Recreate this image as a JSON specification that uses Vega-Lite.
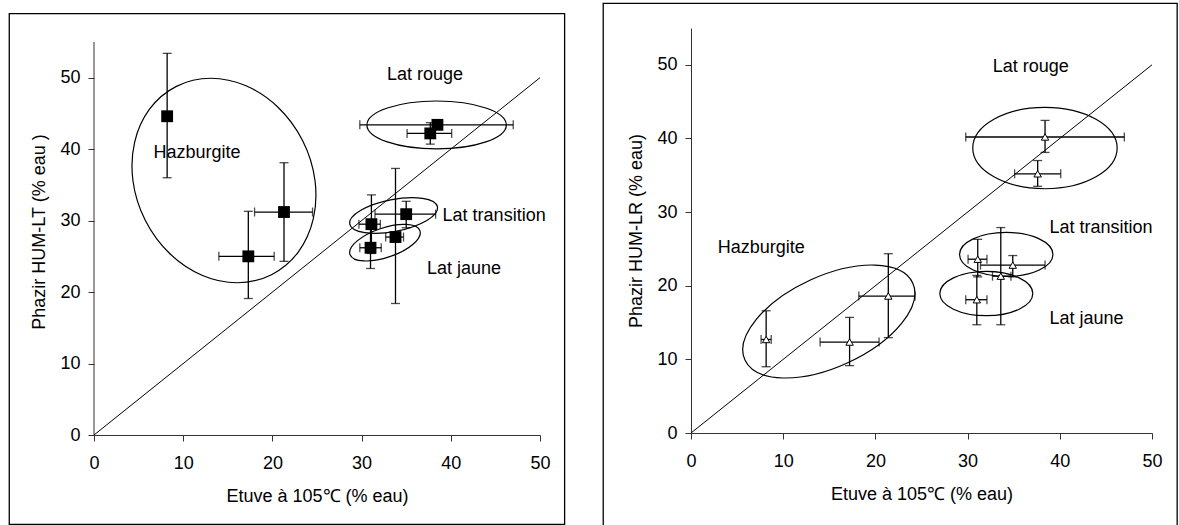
{
  "$schema": "https://vega.github.io/schema/vega-lite/v6.json",
  "padding": {"left": 8, "top": 2, "right": 0, "bottom": 0},
  "background": "white",
  "spacing": 36,
  "config": {
    "view": {"stroke": null},
    "font": "Liberation Sans",
    "scale": {"nice": false},
    "axis": {
      "grid": false,
      "domainColor": "#333333",
      "domainWidth": 1,
      "tickColor": "#333333",
      "tickWidth": 1,
      "tickSize": 6,
      "labelFont": "Liberation Sans",
      "labelFontSize": 18,
      "labelColor": "black",
      "labelFlush": false,
      "labelBound": false,
      "titleFont": "Liberation Sans",
      "titleFontSize": 18,
      "titleFontWeight": "normal",
      "titleColor": "black"
    },
    "axisX": {"labelPadding": 13, "titlePadding": 15},
    "axisY": {"labelPadding": 8, "titlePadding": 11}
  },
  "datasets": {
    "pts": [
      {"panel": "LT", "group": "Hazburgite", "x": 8.2, "y": 44.6, "xlo": null, "xhi": null, "ylo": 36.0, "yhi": 53.4},
      {"panel": "LT", "group": "Hazburgite", "x": 17.3, "y": 25.0, "xlo": 14.0, "xhi": 20.2, "ylo": 19.1, "yhi": 31.3},
      {"panel": "LT", "group": "Hazburgite", "x": 21.3, "y": 31.2, "xlo": 18.0, "xhi": 24.5, "ylo": 24.3, "yhi": 38.1},
      {"panel": "LT", "group": "Lat rouge", "x": 38.5, "y": 43.4, "xlo": 29.8, "xhi": 47.0, "ylo": null, "yhi": null},
      {"panel": "LT", "group": "Lat rouge", "x": 37.7, "y": 42.2, "xlo": 35.1, "xhi": 40.1, "ylo": 40.7, "yhi": 43.7},
      {"panel": "LT", "group": "Lat transition", "x": 35.0, "y": 30.9, "xlo": 31.5, "xhi": 38.3, "ylo": 29.0, "yhi": 32.7},
      {"panel": "LT", "group": "Lat transition", "x": 31.1, "y": 29.5, "xlo": 29.7, "xhi": 32.1, "ylo": 25.4, "yhi": 33.6},
      {"panel": "LT", "group": "Lat jaune", "x": 33.8, "y": 27.7, "xlo": 32.7, "xhi": 34.7, "ylo": 18.4, "yhi": 37.3},
      {"panel": "LT", "group": "Lat jaune", "x": 31.0, "y": 26.2, "xlo": 29.8, "xhi": 32.2, "ylo": 23.3, "yhi": 29.1},
      {"panel": "LR", "group": "Hazburgite", "x": 8.15, "y": 12.7, "xlo": 7.6, "xhi": 8.7, "ylo": 9.0, "yhi": 16.6},
      {"panel": "LR", "group": "Hazburgite", "x": 17.2, "y": 12.35, "xlo": 14.0, "xhi": 20.4, "ylo": 9.15, "yhi": 15.7},
      {"panel": "LR", "group": "Hazburgite", "x": 21.4, "y": 18.6, "xlo": 18.2, "xhi": 24.3, "ylo": 12.95, "yhi": 24.35},
      {"panel": "LR", "group": "Lat rouge", "x": 38.4, "y": 40.2, "xlo": 29.8, "xhi": 47.0, "ylo": 38.1, "yhi": 42.45},
      {"panel": "LR", "group": "Lat rouge", "x": 37.6, "y": 35.2, "xlo": 35.1, "xhi": 40.1, "ylo": 33.5, "yhi": 37.0},
      {"panel": "LR", "group": "Lat transition", "x": 31.1, "y": 23.6, "xlo": 30.05, "xhi": 32.1, "ylo": 21.2, "yhi": 26.3},
      {"panel": "LR", "group": "Lat transition", "x": 34.9, "y": 22.8, "xlo": 31.4, "xhi": 38.4, "ylo": 21.2, "yhi": 24.1},
      {"panel": "LR", "group": "Lat jaune", "x": 33.6, "y": 21.3, "xlo": 32.7, "xhi": 34.7, "ylo": 14.7, "yhi": 27.9},
      {"panel": "LR", "group": "Lat jaune", "x": 31.0, "y": 18.1, "xlo": 29.8, "xhi": 32.1, "ylo": 14.7, "yhi": 21.4}
    ],
    "ell": [
      {"panel": "LT", "group": "Hazburgite", "x": 14.57, "y": 35.61},
      {"panel": "LT", "group": "Lat rouge", "x": 38.41, "y": 43.38},
      {"panel": "LT", "group": "Lat transition", "x": 33.59, "y": 30.71},
      {"panel": "LT", "group": "Lat jaune", "x": 32.62, "y": 26.91},
      {"panel": "LR", "group": "Hazburgite", "x": 14.95, "y": 15.14},
      {"panel": "LR", "group": "Lat rouge", "x": 38.39, "y": 38.70},
      {"panel": "LR", "group": "Lat transition", "x": 34.19, "y": 24.25},
      {"panel": "LR", "group": "Lat jaune", "x": 32.03, "y": 18.94}
    ],
    "labels": [
      {"panel": "LT", "label": "Lat rouge", "x": 32.84, "y": 49.67},
      {"panel": "LT", "label": "Hazburgite", "x": 6.68, "y": 38.72},
      {"panel": "LT", "label": "Lat transition", "x": 39.08, "y": 29.94},
      {"panel": "LT", "label": "Lat jaune", "x": 37.33, "y": 22.49},
      {"panel": "LR", "label": "Lat rouge", "x": 32.73, "y": 48.97},
      {"panel": "LR", "label": "Hazburgite", "x": 2.91, "y": 24.39},
      {"panel": "LR", "label": "Lat transition", "x": 38.88, "y": 27.11},
      {"panel": "LR", "label": "Lat jaune", "x": 38.88, "y": 14.8}
    ]
  },
  "hconcat": [
    {
      "width": 446,
      "height": 407,
      "layer": [
        {
          "data": {"values": [{}]},
          "mark": {"type": "rect", "filled": false, "color": "black", "strokeWidth": 1.3},
          "encoding": {
            "x": {"datum": -9.5, "type": "quantitative"},
            "x2": {"datum": 52.76},
            "y": {"datum": 58.95, "type": "quantitative"},
            "y2": {"datum": -12.5}
          }
        },
        {
          "data": {"values": [{}]},
          "mark": {"type": "rule", "color": "#333333", "strokeWidth": 1},
          "encoding": {
            "x": {"datum": 0, "type": "quantitative"},
            "y": {"datum": 0, "type": "quantitative"},
            "y2": {"datum": 55}
          }
        },
        {
          "data": {"values": [{}]},
          "mark": {"type": "rule", "color": "black", "strokeWidth": 1},
          "encoding": {
            "x": {"datum": 0, "type": "quantitative"},
            "y": {"datum": 0, "type": "quantitative"},
            "x2": {"datum": 50},
            "y2": {"datum": 50}
          }
        },
        {
          "data": {"name": "ell"},
          "transform": [{"filter": "datum.panel === 'LT' && datum.group === 'Hazburgite'"}],
          "mark": {"type": "point", "shape": "M-1 0C-1 -0.4617 -0.5523 -0.836 0 -0.836C0.5523 -0.836 1 -0.4617 1 0C1 0.4617 0.5523 0.836 0 0.836C-0.5523 0.836 -1 0.4617 -1 0Z", "size": 44516, "angle": 63.2, "filled": false, "color": "black", "strokeWidth": 1.2, "opacity": 1},
          "encoding": {
            "x": {"field": "x", "type": "quantitative", "title": "Etuve à 105℃ (% eau)", "scale": {"domain": [0, 50], "nice": false}, "axis": {"values": [0, 10, 20, 30, 40, 50]}},
            "y": {"field": "y", "type": "quantitative", "title": "Phazir HUM-LT (% eau )", "scale": {"domain": [0, 56.95], "nice": false}, "axis": {"values": [0, 10, 20, 30, 40, 50], "domain": false}}
          }
        },
        {
          "data": {"name": "ell"},
          "transform": [{"filter": "datum.panel === 'LT' && datum.group === 'Lat rouge'"}],
          "mark": {"type": "point", "shape": "M-1 0C-1 -0.19 -0.5523 -0.344 0 -0.344C0.5523 -0.344 1 -0.19 1 0C1 0.19 0.5523 0.344 0 0.344C-0.5523 0.344 -1 0.19 -1 0Z", "size": 19432, "angle": 0, "filled": false, "color": "black", "strokeWidth": 1.2, "opacity": 1},
          "encoding": {
            "x": {"field": "x", "type": "quantitative", "title": "Etuve à 105℃ (% eau)", "scale": {"domain": [0, 50], "nice": false}, "axis": {"values": [0, 10, 20, 30, 40, 50]}},
            "y": {"field": "y", "type": "quantitative", "title": "Phazir HUM-LT (% eau )", "scale": {"domain": [0, 56.95], "nice": false}, "axis": {"values": [0, 10, 20, 30, 40, 50], "domain": false}}
          }
        },
        {
          "data": {"name": "ell"},
          "transform": [{"filter": "datum.panel === 'LT' && datum.group === 'Lat transition'"}],
          "mark": {"type": "point", "shape": "M-1 0C-1 -0.1966 -0.5523 -0.356 0 -0.356C0.5523 -0.356 1 -0.1966 1 0C1 0.1966 0.5523 0.356 0 0.356C-0.5523 0.356 -1 0.1966 -1 0Z", "size": 8002, "angle": -11.1, "filled": false, "color": "black", "strokeWidth": 1.2, "opacity": 1},
          "encoding": {
            "x": {"field": "x", "type": "quantitative", "title": "Etuve à 105℃ (% eau)", "scale": {"domain": [0, 50], "nice": false}, "axis": {"values": [0, 10, 20, 30, 40, 50]}},
            "y": {"field": "y", "type": "quantitative", "title": "Phazir HUM-LT (% eau )", "scale": {"domain": [0, 56.95], "nice": false}, "axis": {"values": [0, 10, 20, 30, 40, 50], "domain": false}}
          }
        },
        {
          "data": {"name": "ell"},
          "transform": [{"filter": "datum.panel === 'LT' && datum.group === 'Lat jaune'"}],
          "mark": {"type": "point", "shape": "M-1 0C-1 -0.2209 -0.5523 -0.4 0 -0.4C0.5523 -0.4 1 -0.2209 1 0C1 0.2209 0.5523 0.4 0 0.4C-0.5523 0.4 -1 0.2209 -1 0Z", "size": 5454, "angle": -18.7, "filled": false, "color": "black", "strokeWidth": 1.2, "opacity": 1},
          "encoding": {
            "x": {"field": "x", "type": "quantitative", "title": "Etuve à 105℃ (% eau)", "scale": {"domain": [0, 50], "nice": false}, "axis": {"values": [0, 10, 20, 30, 40, 50]}},
            "y": {"field": "y", "type": "quantitative", "title": "Phazir HUM-LT (% eau )", "scale": {"domain": [0, 56.95], "nice": false}, "axis": {"values": [0, 10, 20, 30, 40, 50], "domain": false}}
          }
        },
        {
          "data": {"name": "pts"},
          "transform": [{"filter": "datum.panel === 'LT' && isValid(datum.xlo)"}],
          "mark": {"type": "errorbar", "ticks": true, "size": 9, "thickness": 1.3, "color": "black"},
          "encoding": {
            "x": {"field": "xlo", "type": "quantitative", "title": "Etuve à 105℃ (% eau)", "scale": {"domain": [0, 50], "nice": false}, "axis": {"values": [0, 10, 20, 30, 40, 50]}},
            "x2": {"field": "xhi"},
            "y": {"field": "y", "type": "quantitative", "title": "Phazir HUM-LT (% eau )", "scale": {"domain": [0, 56.95], "nice": false}, "axis": {"values": [0, 10, 20, 30, 40, 50], "domain": false}}
          }
        },
        {
          "data": {"name": "pts"},
          "transform": [{"filter": "datum.panel === 'LT' && isValid(datum.ylo)"}],
          "mark": {"type": "errorbar", "ticks": true, "size": 9, "thickness": 1.3, "color": "black"},
          "encoding": {
            "x": {"field": "x", "type": "quantitative", "title": "Etuve à 105℃ (% eau)", "scale": {"domain": [0, 50], "nice": false}, "axis": {"values": [0, 10, 20, 30, 40, 50]}},
            "y": {"field": "ylo", "type": "quantitative", "title": "Phazir HUM-LT (% eau )", "scale": {"domain": [0, 56.95], "nice": false}, "axis": {"values": [0, 10, 20, 30, 40, 50], "domain": false}},
            "y2": {"field": "yhi"}
          }
        },
        {
          "data": {"name": "pts"},
          "transform": [{"filter": "datum.panel === 'LT'"}],
          "mark": {"type": "point", "shape": "square", "filled": true, "color": "black", "size": 140, "opacity": 1},
          "encoding": {
            "x": {"field": "x", "type": "quantitative", "title": "Etuve à 105℃ (% eau)", "scale": {"domain": [0, 50], "nice": false}, "axis": {"values": [0, 10, 20, 30, 40, 50]}},
            "y": {"field": "y", "type": "quantitative", "title": "Phazir HUM-LT (% eau )", "scale": {"domain": [0, 56.95], "nice": false}, "axis": {"values": [0, 10, 20, 30, 40, 50], "domain": false}}
          }
        },
        {
          "data": {"name": "labels"},
          "transform": [{"filter": "datum.panel === 'LT'"}],
          "mark": {"type": "text", "align": "left", "baseline": "alphabetic", "fontSize": 18, "font": "Liberation Sans", "color": "black"},
          "encoding": {
            "x": {"field": "x", "type": "quantitative", "title": "Etuve à 105℃ (% eau)", "scale": {"domain": [0, 50], "nice": false}, "axis": {"values": [0, 10, 20, 30, 40, 50]}},
            "y": {"field": "y", "type": "quantitative", "title": "Phazir HUM-LT (% eau )", "scale": {"domain": [0, 56.95], "nice": false}, "axis": {"values": [0, 10, 20, 30, 40, 50], "domain": false}},
            "text": {"field": "label"}
          }
        }
      ]
    },
    {
      "width": 461,
      "height": 405,
      "layer": [
        {
          "data": {"values": [{}]},
          "mark": {"type": "rect", "filled": false, "color": "black", "strokeWidth": 1.3},
          "encoding": {
            "x": {"datum": -9.52, "type": "quantitative"},
            "x2": {"datum": 52.73},
            "y": {"datum": 58.34, "type": "quantitative"},
            "y2": {"datum": -12.86}
          }
        },
        {
          "data": {"values": [{}]},
          "mark": {"type": "rule", "color": "black", "strokeWidth": 1},
          "encoding": {
            "x": {"datum": 0, "type": "quantitative"},
            "y": {"datum": 0, "type": "quantitative"},
            "x2": {"datum": 50},
            "y2": {"datum": 50}
          }
        },
        {
          "data": {"name": "ell"},
          "transform": [{"filter": "datum.panel === 'LR' && datum.group === 'Hazburgite'"}],
          "mark": {"type": "point", "shape": "M-1 0C-1 -0.2717 -0.5523 -0.492 0 -0.492C0.5523 -0.492 1 -0.2717 1 0C1 0.2717 0.5523 0.492 0 0.492C-0.5523 0.492 -1 0.2717 -1 0Z", "size": 34100, "angle": -24.7, "filled": false, "color": "black", "strokeWidth": 1.2, "opacity": 1},
          "encoding": {
            "x": {"field": "x", "type": "quantitative", "title": "Etuve à 105℃ (% eau)", "scale": {"domain": [0, 50], "nice": false}, "axis": {"values": [0, 10, 20, 30, 40, 50]}},
            "y": {"field": "y", "type": "quantitative", "title": "Phazir HUM-LR (% eau)", "scale": {"domain": [0, 55], "nice": false}, "axis": {"values": [0, 10, 20, 30, 40, 50]}}
          }
        },
        {
          "data": {"name": "ell"},
          "transform": [{"filter": "datum.panel === 'LR' && datum.group === 'Lat rouge'"}],
          "mark": {"type": "point", "shape": "M-1 0C-1 -0.3115 -0.5523 -0.564 0 -0.564C0.5523 -0.564 1 -0.3115 1 0C1 0.3115 0.5523 0.564 0 0.564C-0.5523 0.564 -1 0.3115 -1 0Z", "size": 20851, "angle": 0, "filled": false, "color": "black", "strokeWidth": 1.2, "opacity": 1},
          "encoding": {
            "x": {"field": "x", "type": "quantitative", "title": "Etuve à 105℃ (% eau)", "scale": {"domain": [0, 50], "nice": false}, "axis": {"values": [0, 10, 20, 30, 40, 50]}},
            "y": {"field": "y", "type": "quantitative", "title": "Phazir HUM-LR (% eau)", "scale": {"domain": [0, 55], "nice": false}, "axis": {"values": [0, 10, 20, 30, 40, 50]}}
          }
        },
        {
          "data": {"name": "ell"},
          "transform": [{"filter": "datum.panel === 'LR' && datum.group === 'Lat transition'"}],
          "mark": {"type": "point", "shape": "M-1 0C-1 -0.2601 -0.5523 -0.471 0 -0.471C0.5523 -0.471 1 -0.2601 1 0C1 0.2601 0.5523 0.471 0 0.471C-0.5523 0.471 -1 0.2601 -1 0Z", "size": 8724, "angle": 0, "filled": false, "color": "black", "strokeWidth": 1.2, "opacity": 1},
          "encoding": {
            "x": {"field": "x", "type": "quantitative", "title": "Etuve à 105℃ (% eau)", "scale": {"domain": [0, 50], "nice": false}, "axis": {"values": [0, 10, 20, 30, 40, 50]}},
            "y": {"field": "y", "type": "quantitative", "title": "Phazir HUM-LR (% eau)", "scale": {"domain": [0, 55], "nice": false}, "axis": {"values": [0, 10, 20, 30, 40, 50]}}
          }
        },
        {
          "data": {"name": "ell"},
          "transform": [{"filter": "datum.panel === 'LR' && datum.group === 'Lat jaune'"}],
          "mark": {"type": "point", "shape": "M-1 0C-1 -0.2634 -0.5523 -0.477 0 -0.477C0.5523 -0.477 1 -0.2634 1 0C1 0.2634 0.5523 0.477 0 0.477C-0.5523 0.477 -1 0.2634 -1 0Z", "size": 8649, "angle": 0, "filled": false, "color": "black", "strokeWidth": 1.2, "opacity": 1},
          "encoding": {
            "x": {"field": "x", "type": "quantitative", "title": "Etuve à 105℃ (% eau)", "scale": {"domain": [0, 50], "nice": false}, "axis": {"values": [0, 10, 20, 30, 40, 50]}},
            "y": {"field": "y", "type": "quantitative", "title": "Phazir HUM-LR (% eau)", "scale": {"domain": [0, 55], "nice": false}, "axis": {"values": [0, 10, 20, 30, 40, 50]}}
          }
        },
        {
          "data": {"name": "pts"},
          "transform": [{"filter": "datum.panel === 'LR' && isValid(datum.xlo)"}],
          "mark": {"type": "errorbar", "ticks": true, "size": 9, "thickness": 1.3, "color": "black"},
          "encoding": {
            "x": {"field": "xlo", "type": "quantitative", "title": "Etuve à 105℃ (% eau)", "scale": {"domain": [0, 50], "nice": false}, "axis": {"values": [0, 10, 20, 30, 40, 50]}},
            "x2": {"field": "xhi"},
            "y": {"field": "y", "type": "quantitative", "title": "Phazir HUM-LR (% eau)", "scale": {"domain": [0, 55], "nice": false}, "axis": {"values": [0, 10, 20, 30, 40, 50]}}
          }
        },
        {
          "data": {"name": "pts"},
          "transform": [{"filter": "datum.panel === 'LR' && isValid(datum.ylo)"}],
          "mark": {"type": "errorbar", "ticks": true, "size": 9, "thickness": 1.3, "color": "black"},
          "encoding": {
            "x": {"field": "x", "type": "quantitative", "title": "Etuve à 105℃ (% eau)", "scale": {"domain": [0, 50], "nice": false}, "axis": {"values": [0, 10, 20, 30, 40, 50]}},
            "y": {"field": "ylo", "type": "quantitative", "title": "Phazir HUM-LR (% eau)", "scale": {"domain": [0, 55], "nice": false}, "axis": {"values": [0, 10, 20, 30, 40, 50]}},
            "y2": {"field": "yhi"}
          }
        },
        {
          "data": {"name": "pts"},
          "transform": [{"filter": "datum.panel === 'LR'"}],
          "mark": {"type": "point", "shape": "triangle-up", "filled": true, "fill": "white", "stroke": "black", "strokeWidth": 1, "size": 55, "opacity": 1},
          "encoding": {
            "x": {"field": "x", "type": "quantitative", "title": "Etuve à 105℃ (% eau)", "scale": {"domain": [0, 50], "nice": false}, "axis": {"values": [0, 10, 20, 30, 40, 50]}},
            "y": {"field": "y", "type": "quantitative", "title": "Phazir HUM-LR (% eau)", "scale": {"domain": [0, 55], "nice": false}, "axis": {"values": [0, 10, 20, 30, 40, 50]}}
          }
        },
        {
          "data": {"name": "labels"},
          "transform": [{"filter": "datum.panel === 'LR'"}],
          "mark": {"type": "text", "align": "left", "baseline": "alphabetic", "fontSize": 18, "font": "Liberation Sans", "color": "black"},
          "encoding": {
            "x": {"field": "x", "type": "quantitative", "title": "Etuve à 105℃ (% eau)", "scale": {"domain": [0, 50], "nice": false}, "axis": {"values": [0, 10, 20, 30, 40, 50]}},
            "y": {"field": "y", "type": "quantitative", "title": "Phazir HUM-LR (% eau)", "scale": {"domain": [0, 55], "nice": false}, "axis": {"values": [0, 10, 20, 30, 40, 50]}},
            "text": {"field": "label"}
          }
        }
      ]
    }
  ]
}
